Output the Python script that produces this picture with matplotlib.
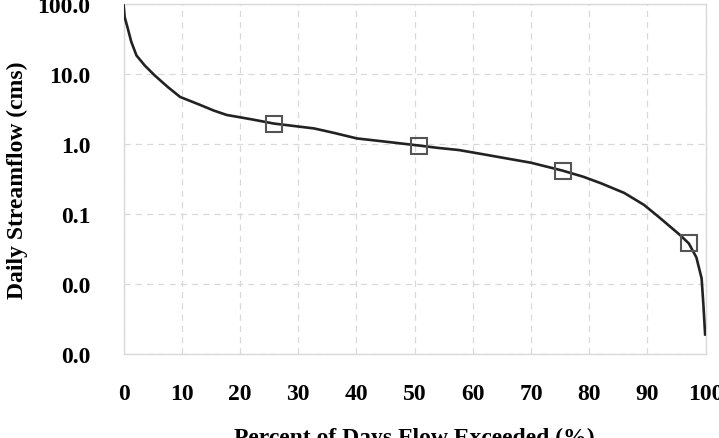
import numpy as np
import matplotlib
matplotlib.use("Agg")
from matplotlib import pyplot as plt
from matplotlib.ticker import FormatStrFormatter, NullLocator

# flow duration curve
pct = [0, 0.17, 0.7, 1.3, 2.2, 3.6, 5.3, 7.6, 9.7, 11.5, 13.2, 15.5, 17.7, 22,
       25.8, 29, 32.7, 36, 40.1, 45, 50.8, 54, 57.6, 61.5, 65.9, 70, 75.4, 79,
       82, 86, 89.4, 92.2, 95.6, 97.1, 98.4, 99.3, 99.6, 99.9]
flow = [95, 65, 45, 29, 18.4, 13.3, 9.6, 6.5, 4.7, 4.1, 3.6, 3.0, 2.6, 2.25,
        1.96, 1.82, 1.67, 1.45, 1.2, 1.08, 0.95, 0.88, 0.82, 0.72, 0.62, 0.54,
        0.417, 0.34, 0.275, 0.2, 0.135, 0.087, 0.05, 0.038, 0.024, 0.012,
        0.0051, 0.0019]

# highlighted points
mark_pct = [25.8, 50.8, 75.4, 97.1]
mark_flow = [1.96, 0.95, 0.417, 0.038]

xticks = [0, 10, 20, 30, 40, 50, 60, 70, 80, 90, 100]
yticks = [0.001, 0.01, 0.1, 1, 10, 100]

plt.rcParams['font.family'] = ['Liberation Serif', 'DejaVu Serif']

fig = plt.figure(figsize=(7.19, 4.39), dpi=100)
ax = fig.add_axes([0.172, 0.1913, 0.8095, 0.7973])

ax.plot(pct, flow, color='#222222', lw=1.9, zorder=3)
ax.plot(mark_pct, mark_flow, ls='none', marker='s', ms=11, mfc='none',
        mec='#555555', mew=1.5, zorder=4)

ax.set_yscale('log')
ax.set_xlim(0, 100)
ax.set_ylim(0.001, 100)
ax.set_xticks(xticks)
ax.set_yticks(yticks)
ax.yaxis.set_minor_locator(NullLocator())
ax.yaxis.set_major_formatter(FormatStrFormatter('%.1f'))

ax.grid(True, color='#d9d9d9', ls=(0, (5, 4)), lw=0.9)
for s in ax.spines.values():
    s.set_color('#d9d9d9')
    s.set_linewidth(1.0)

ax.tick_params(length=0, labelsize=17)
ax.tick_params(axis='x', pad=21)
ax.tick_params(axis='y', pad=24)
for lab in ax.get_xticklabels() + ax.get_yticklabels():
    lab.set_fontweight('bold')

ax.set_xlabel('Percent of Days Flow Exceeded (%)', fontsize=17,
              fontweight='bold', labelpad=16)
ax.set_ylabel('Daily Streamflow (cms)', fontsize=17, fontweight='bold',
              labelpad=7)

fig.savefig('out.png', dpi=100)
